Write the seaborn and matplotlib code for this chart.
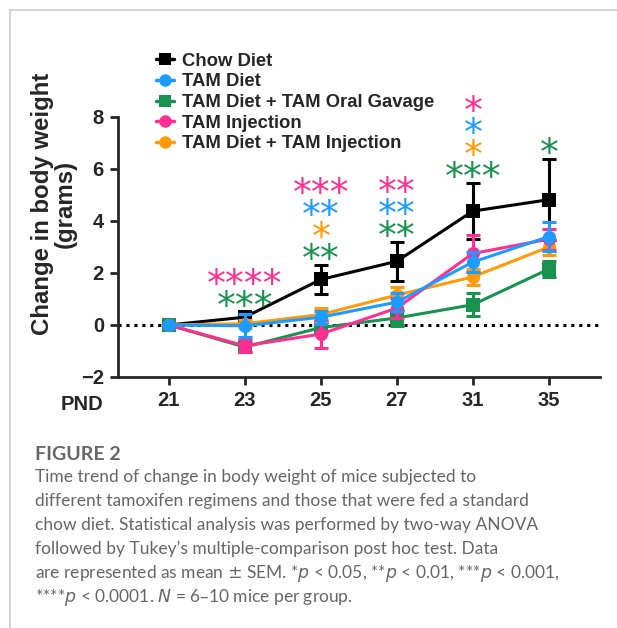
import numpy as np
import pandas as pd
import seaborn as sns
import matplotlib.pyplot as plt
from matplotlib.lines import Line2D

# postnatal days (plotted as equally spaced categories)
pnd = ["21", "23", "25", "27", "31", "35"]

groups = ["Chow Diet", "TAM Diet", "TAM Diet + TAM Oral Gavage",
          "TAM Injection", "TAM Diet + TAM Injection"]
colors = ["#000000", "#1E9BFF", "#17924F", "#FF2F92", "#FF9A0A"]
markers = ["s", "o", "s", "o", "o"]

chow_mean = [0.0, 0.3, 1.75, 2.45, 4.38, 4.82]
chow_sem = [0.0, 0.2, 0.55, 0.75, 1.08, 1.55]
tam_mean = [0.0, -0.03, 0.3, 0.88, 2.42, 3.4]
tam_sem = [0.0, 0.45, 0.25, 0.35, 0.4, 0.55]
gav_mean = [0.0, -0.85, -0.1, 0.27, 0.78, 2.15]
gav_sem = [0.0, 0.2, 0.2, 0.3, 0.45, 0.3]
inj_mean = [0.0, -0.8, -0.35, 0.65, 2.75, 3.3]
inj_sem = [0.0, 0.25, 0.55, 0.4, 0.7, 0.4]
dinj_mean = [0.0, 0.05, 0.4, 1.15, 1.85, 3.0]
dinj_sem = [0.0, 0.15, 0.25, 0.3, 0.3, 0.3]

means = [chow_mean, tam_mean, gav_mean, inj_mean, dinj_mean]
sems = [chow_sem, tam_sem, gav_sem, inj_sem, dinj_sem]

# significance stars above each day, bottom row first: (stars, group index)
stars = {
    "23": [("***", 2), ("****", 3)],
    "25": [("**", 2), ("*", 4), ("**", 1), ("***", 3)],
    "27": [("**", 2), ("**", 1), ("**", 3)],
    "31": [("***", 2), ("*", 4), ("*", 1), ("*", 3)],
    "35": [("*", 2)],
}

caption_lines = [
    "Time trend of change in body weight of mice subjected to",
    "different tamoxifen regimens and those that were fed a standard",
    "chow diet. Statistical analysis was performed by two-way ANOVA",
    "followed by Tukey\u2019s multiple-comparison post hoc test. Data",
    "are represented as mean $\\pm$ SEM. *$p$ < 0.05, **$p$ < 0.01, ***$p$ < 0.001,",
    "****$p$ < 0.0001. $N$ = 6\u201310 mice per group.",
]

rows = []
for g, m, s in zip(groups, means, sems):
    for i, d in enumerate(pnd):
        rows.append({"group": g, "pos": i, "mean": m[i], "sem": s[i]})
df = pd.DataFrame(rows)

sns.set_style("ticks")
plt.rcParams["font.family"] = ["Liberation Sans", "DejaVu Sans"]

fig = plt.figure(figsize=(6.17, 6.28), dpi=100)
ax = fig.add_axes([0.191, 0.3997, 0.781, 0.414])

draw_order = [0, 2, 4, 3, 1]
for z, k in enumerate(draw_order):
    sub = df[df["group"] == groups[k]]
    ax.errorbar(sub["pos"], sub["mean"], yerr=sub["sem"], fmt="none",
                ecolor=colors[k], elinewidth=2.2, capsize=5, capthick=2.2,
                zorder=2 + z)
    sns.lineplot(data=sub, x="pos", y="mean", color=colors[k],
                 marker=markers[k], markersize=9.5, markeredgewidth=0,
                 linewidth=2.2, ax=ax, zorder=2 + z)

ax.axhline(0, color="black", linestyle=(0, (1, 1.6)), linewidth=2.2, zorder=1)

ax.set_xlim(-0.67, 5.67)
ax.set_ylim(-2, 8)
ax.set_xticks(range(len(pnd)))
ax.set_xticklabels(pnd)
ax.set_yticks([-2, 0, 2, 4, 6, 8])
ax.tick_params(axis="both", width=2, length=6, labelsize=14.5, pad=4)
for lab in ax.get_xticklabels() + ax.get_yticklabels():
    lab.set_fontweight("bold")
sns.despine(ax=ax)
for sp in ["left", "bottom"]:
    ax.spines[sp].set_linewidth(2)
ax.set_xlabel("")
ax.set_ylabel("Change in body weight\n(grams)", fontsize=17.3,
              fontweight="bold", linespacing=1.0)
ax.yaxis.set_label_coords(-0.085, 0.665)
fig.text(82 / 617, 1 - 404 / 628, "PND", fontsize=14.5, fontweight="bold",
         ha="center", va="center")

# stars stacked above the chow error bar
for d, items in stars.items():
    i = pnd.index(d)
    base = chow_mean[i] + chow_sem[i] + 0.15
    for r, (s, k) in enumerate(items):
        ax.text(i, base + r * 0.85, s, color=colors[k], fontsize=27,
                ha="center", va="center", family="DejaVu Sans")

handles = [Line2D([0], [0], color=c, marker=m, markersize=9,
                  markeredgewidth=0, linewidth=2.5)
           for c, m in zip(colors, markers)]
leg = fig.legend(handles, groups, loc="upper left",
                 bbox_to_anchor=(139 / 617, 1 - 36 / 628), frameon=False,
                 handlelength=1.0, handletextpad=0.45, labelspacing=0.2,
                 prop={"family": "Liberation Sans", "weight": "bold",
                       "size": 13.3})

# caption
cap_color = "#666666"
fig.text(35 / 617, 1 - 455 / 628, "FIGURE 2", fontsize=14, color=cap_color,
         family="Lato", fontweight="bold", va="center")
for j, line in enumerate(caption_lines):
    fig.text(35 / 617, 1 - (477 + j * 24) / 628, line, fontsize=12.5,
             color=cap_color, family="Lato", va="center")

# card border
fig.add_artist(Line2D([10 / 617, 1], [1 - 10 / 628, 1 - 10 / 628],
                      color="#cccccc", linewidth=1.2))
fig.add_artist(Line2D([10 / 617, 10 / 617], [0, 1 - 10 / 628],
                      color="#cccccc", linewidth=1.2))

fig.savefig("out.png", dpi=100)
